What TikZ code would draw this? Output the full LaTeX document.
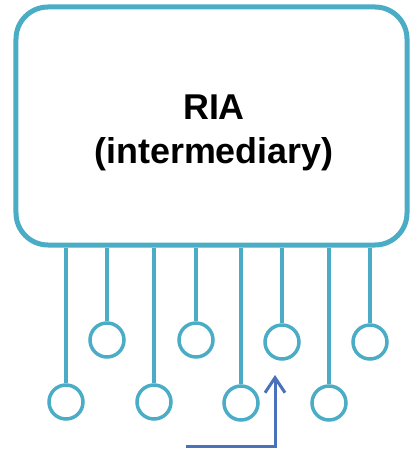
\documentclass[tikz,border=0pt]{standalone}
\usepackage{fontspec}
\setmainfont{Liberation Sans}
\usepackage{xcolor}
\usetikzlibrary{shapes,calc,positioning,arrows.meta}
\definecolor{riateal}{HTML}{4BACC6}
\definecolor{riablue}{HTML}{4A72BA}

\begin{document}
\begin{tikzpicture}[x=1bp,y=-1bp]
  \tikzset{ box/.style={draw=riateal,line width=5bp,rounded corners=32bp,inner sep=0pt,
      minimum width=391bp,minimum height=238bp},
    port/.style={circle,draw=riateal,line width=3.5bp,inner sep=0pt,minimum size=34bp},
    lbl/.style={anchor=base,font=\bfseries\fontsize{36}{43}\selectfont},
  }
  \useasboundingbox (0,0) rectangle (409,449);

  \node[box] (ria) at (211.5, 126) {};
  \node[lbl] (t1) at (214, 120) {RIA};
  \node[lbl] (t2) at (214, 164) {(intermediary)};

  % lower row of ports
  \node[port] (1) at (66, 402) {};
  \node[port] (3) at (154, 402) {};
  \node[port] (5) at (241, 403) {};
  \node[port] (7) at (329, 403) {};
  % upper row of ports
  \node[port] (2) at (107, 340) {};
  \node[port] (4) at (196, 340) {};
  \node[port] (6) at (282, 342) {};
  \node[port] (8) at (370, 342) {};

  % the wires between box and ports
  \foreach \i in {1,...,8}
    \draw[riateal, line width=3.5bp] (\i |- ria.south) -- (\i);

  % the arrow
  \coordinate (src) at (186, 446);
  \coordinate (tip) at (275, 375);
  \draw[riablue, line width=3bp, -{Straight Barb[length=15bp,width=20bp]}]
    (src) -| (tip);
\end{tikzpicture}
\end{document}
